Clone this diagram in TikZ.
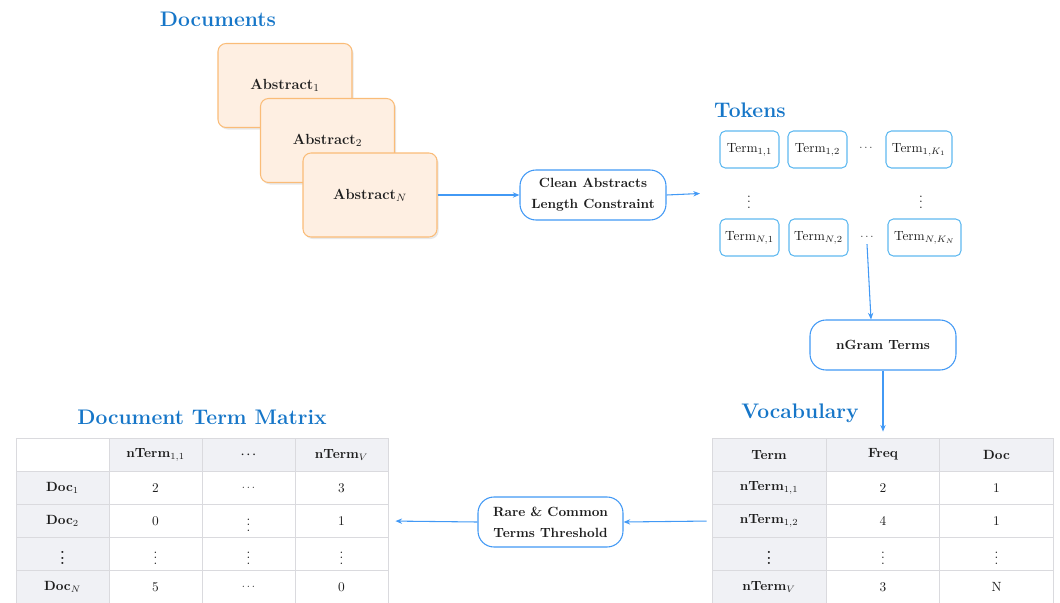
\documentclass[tikz,border=0pt]{standalone}
\usetikzlibrary{arrows.meta,shadows,calc}
\definecolor{headblue}{RGB}{22,118,200}
\definecolor{arrblue}{RGB}{66,153,245}
\definecolor{tokblue}{RGB}{95,185,240}
\definecolor{absfill}{RGB}{254,239,226}
\definecolor{absdraw}{RGB}{250,188,120}
\definecolor{hdrfill}{RGB}{240,241,245}
\definecolor{gridc}{RGB}{218,218,222}
\definecolor{txt}{RGB}{30,30,30}
\newcommand{\bcdots}{\mbox{\footnotesize\boldmath$\cdots$}}
\newcommand{\scdots}{\mbox{\footnotesize$\cdots$}}
\begin{document}
\begin{tikzpicture}[x=0.75pt,y=-0.75pt,
 every node/.style={text=txt},
 heading/.style={text=headblue,font=\fontsize{15.8}{18}\selectfont\bfseries},
 absbox/.style={draw=absdraw,fill=absfill,rounded corners=6pt,minimum width=100.5pt,minimum height=63pt,line width=0.8pt,font=\fontsize{11}{13}\selectfont\bfseries,drop shadow={shadow xshift=1.2pt,shadow yshift=-1.5pt,opacity=0.18}},
 procbox/.style={draw=arrblue,fill=white,rounded corners=12pt,minimum width=109.5pt,minimum height=37.5pt,line width=0.8pt,font=\bfseries,align=center},
 tok/.style={draw=tokblue,rounded corners=4pt,minimum height=27.75pt,line width=0.8pt,inner sep=1pt},
 arr/.style={draw=arrblue,line width=0.8pt,-{Stealth[length=5pt,width=4pt]}},
 cell/.style={draw=gridc,line width=0.6pt,minimum height=24.9pt,inner sep=0pt,anchor=center},
 vcell/.style={cell,minimum width=85.5pt},
 dcell/.style={cell,minimum width=69.75pt},
 hdr/.style={fill=hdrfill,font=\bfseries},
 wht/.style={fill=white},
]
\useasboundingbox (0,0) rectangle (1060,603);

% Documents
\node[heading] (hdoc) at (218,19) {Documents};
\node[absbox] (a1) at (285,85.5) {Abstract$_1$};
\node[absbox] (a2) at (327.5,140.5) {Abstract$_2$};
\node[absbox] (aN) at (370,195) {Abstract$_N$};

% Clean
\node[procbox] (clean) at (593,195) {Clean Abstracts\\[3.75pt]Length Constraint};
\coordinate (tokin) at (700,193.5);
\draw[arr] (aN.east) -- (clean.west);
\draw[arr] (clean.east) -- (tokin);

% Tokens
\node[heading] (htok) at (750,110) {Tokens};
\node[tok,minimum width=44.25pt] (t11) at (749.5,149.5) {Term$_{1,1}$};
\node[tok,minimum width=44.25pt] (t12) at (817.5,149.5) {Term$_{1,2}$};
\node (d1) at (866,148) {\scdots};
\node[tok,minimum width=49.5pt] (t1k) at (919,149.5) {Term$_{1,K_1}$};
\node (v1) at (749,198) {$\vdots$};
\node (v2) at (921,198) {$\vdots$};
\node[tok,minimum width=44.25pt] (tn1) at (749.5,237.5) {Term$_{N,1}$};
\node[tok,minimum width=44.25pt] (tn2) at (818.5,237.5) {Term$_{N,2}$};
\node (dN) at (867,237) {\scdots};
\node[tok,minimum width=54.75pt] (tnk) at (924.5,237.5) {Term$_{N,K_N}$};

% nGram
\node[procbox] (ngram) at (883,345) {nGram Terms};
\draw[arr] (dN.south) -- ($(ngram.north)+(-12,0)$);

% Vocabulary
\node[heading] (hvoc) at (800,413) {Vocabulary};
\node[vcell,hdr] (vh1) at (769,454.6) {Term};
\node[vcell,hdr] (vh2) at (883,454.6) {Freq};
\node[vcell,hdr] (vh3) at (996.5,454.6) {Doc};
\node[vcell,hdr] (v11) at (769,487.8) {nTerm$_{1,1}$};
\node[vcell,wht] (v12) at (883,487.8) {2};
\node[vcell,wht] (v13) at (996.5,487.8) {1};
\node[vcell,hdr] (v21) at (769,521) {nTerm$_{1,2}$};
\node[vcell,wht] (v22) at (883,521) {4};
\node[vcell,wht] (v23) at (996.5,521) {1};
\node[vcell,hdr] (v31) at (769,554.2) {\vdots};
\node[vcell,wht] (v32) at (883,554.2) {$\vdots$};
\node[vcell,wht] (v33) at (996.5,554.2) {$\vdots$};
\node[vcell,hdr] (v41) at (769,587.4) {nTerm$_V$};
\node[vcell,wht] (v42) at (883,587.4) {3};
\node[vcell,wht] (v43) at (996.5,587.4) {N};
\draw[arr,shorten >=4.5pt] (ngram.south) -- (vh2.north);

% Rare
\node[procbox,minimum width=108.75pt] (rare) at (550.5,522) {Rare \& Common\\[3.75pt]Terms Threshold};
\draw[arr,shorten <=3.75pt] (v21.west) -- (rare.east);

% Document Term Matrix
\node[heading] (hdtm) at (202,417) {Document Term Matrix};
\node[dcell,wht] (m00) at (62.5,454.6) {};
\node[dcell,hdr] (m01) at (155.5,454.6) {nTerm$_{1,1}$};
\node[dcell,hdr] (m02) at (248.5,454.6) {\bcdots};
\node[dcell,hdr] (m03) at (341.5,454.6) {nTerm$_V$};
\node[dcell,hdr] (m10) at (62.5,487.8) {Doc$_1$};
\node[dcell,wht] (m11) at (155.5,487.8) {2};
\node[dcell,wht] (m12) at (248.5,487.8) {\scdots};
\node[dcell,wht] (m13) at (341.5,487.8) {3};
\node[dcell,hdr] (m20) at (62.5,521) {Doc$_2$};
\node[dcell,wht] (m21) at (155.5,521) {0};
\node[dcell,wht] (m22) at (248.5,521) {$\vdots$};
\node[dcell,wht] (m23) at (341.5,521) {1};
\node[dcell,hdr] (m30) at (62.5,554.2) {\vdots};
\node[dcell,wht] (m31) at (155.5,554.2) {$\vdots$};
\node[dcell,wht] (m32) at (248.5,554.2) {$\vdots$};
\node[dcell,wht] (m33) at (341.5,554.2) {$\vdots$};
\node[dcell,hdr] (m40) at (62.5,587.4) {Doc$_N$};
\node[dcell,wht] (m41) at (155.5,587.4) {5};
\node[dcell,wht] (m42) at (248.5,587.4) {\scdots};
\node[dcell,wht] (m43) at (341.5,587.4) {0};
\draw[arr,shorten >=5.25pt] (rare.west) -- (m23.east);
\end{tikzpicture}
\end{document}
